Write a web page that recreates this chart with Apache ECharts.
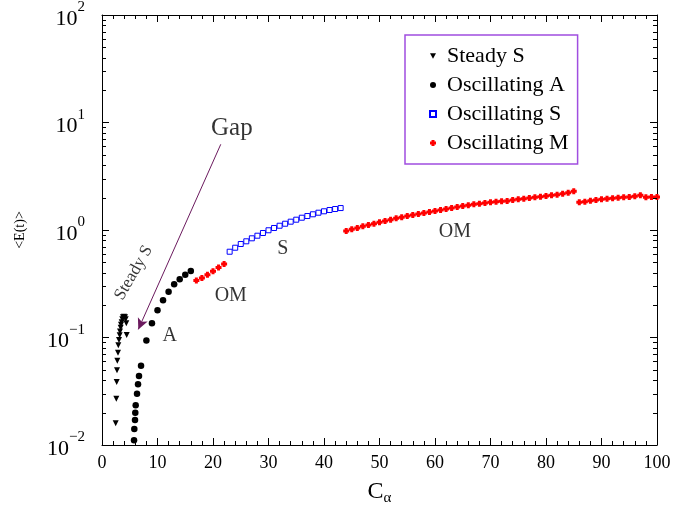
<!DOCTYPE html>
<html>
<head>
<meta charset="utf-8">
<script src="https://cdn.jsdelivr.net/npm/echarts@6/dist/echarts.min.js"></script>
<style>html,body{margin:0;padding:0;background:#fff}#c{width:695px;height:516px}</style>
</head>
<body>
<div id="c"></div>
<script>
// ---- data ----
var steadyS = [
  [2.47,0.0159],[2.58,0.027],[2.65,0.0385],[2.70,0.0495],[2.76,0.0608],[2.88,0.0722],
  [2.94,0.0846],[3.06,0.0948],[3.19,0.105],[3.24,0.114],[3.37,0.123],[3.42,0.1315],
  [3.55,0.139],[3.66,0.1477],[3.78,0.154],[3.96,0.156],[4.14,0.154],[4.27,0.148],
  [4.38,0.1355],[4.45,0.1055]
];
var oscA = [
  [5.77,0.0111],[5.82,0.0141],[5.95,0.0171],[6.0,0.020],[6.07,0.0234],[6.31,0.030],
  [6.49,0.0367],[6.67,0.0438],[7.03,0.0547],[8,0.094],[9,0.136],[10,0.179],[11,0.222],
  [12,0.267],[13,0.313],[14,0.348],[15,0.384],[16,0.416]
];
var oscS = [
  [23,0.628],[24,0.684],[25,0.741],[26,0.785],[27,0.837],[28,0.885],[29,0.938],[30,0.994],
  [31,1.044],[32,1.096],[33,1.144],[34,1.195],[35,1.247],[36,1.301],[37,1.349],[38,1.40],
  [39,1.448],[40,1.493],[41,1.535],[42,1.567],[43,1.60]
];
var oscM = [
  [17,0.339],[18,0.358],[19,0.383],[20,0.413],[21,0.448],[22,0.483],
  [44,0.979],[45,1.015],[46,1.044],[47,1.082],[48,1.113],[49,1.144],[50,1.179],[51,1.213],
  [52,1.247],[53,1.285],[54,1.313],[55,1.350],[56,1.379],[57,1.409],[58,1.439],[59,1.471],
  [60,1.502],[61,1.535],[62,1.568],[63,1.602],[64,1.637],[65,1.672],[66,1.697],[67,1.734],
  [68,1.757],[69,1.783],[70,1.810],[71,1.834],[72,1.849],[73,1.861],[74,1.901],[75,1.930],
  [76,1.955],[77,1.985],[78,2.015],[79,2.041],[80,2.072],[81,2.103],[82,2.130],[83,2.176],
  [84,2.223],[85,2.291],
  [86,1.810],[87,1.834],[88,1.873],[89,1.901],[90,1.930],[91,1.955],[92,1.972],[93,1.997],
  [94,2.015],[95,2.028],[96,2.059],[97,2.103],[98,2.015],[99,2.028],[100,2.028]
];
var xTicks = [0,10,20,30,40,50,60,70,80,90,100];
var yMinorTicks = [
  0.02,0.03,0.04,0.05,0.06,0.07,0.08,0.09,
  0.2,0.3,0.4,0.5,0.6,0.7,0.8,0.9,
  2,3,4,5,6,7,8,9,
  20,30,40,50,60,70,80,90
];
var legendNames = ['Steady S','Oscillating A','Oscillating S','Oscillating M'];
var arrowFrom = [21.4, 6.27];
var arrowTo = [6.54, 0.119];
var notes = [
  {text:'Gap', at:[23.4, 8.9], size:25, rotate:0},
  {text:'Steady S', at:[5.7, 0.40], size:17, rotate:60},
  {text:'A', at:[12.2, 0.103], size:20, rotate:0},
  {text:'OM', at:[23.2, 0.243], size:20, rotate:0},
  {text:'S', at:[32.6, 0.666], size:20, rotate:0},
  {text:'OM', at:[63.6, 0.958], size:20, rotate:0}
];

var FONT = 'Liberation Serif';
var TRI_DOWN = 'path://M0,0L2,0L1,1.8Z';
var BLOB = 'path://M1,0H3V1H4V3H3V4H1V3H0V1H1Z';
var chart = echarts.init(document.getElementById('c'), null, {renderer:'canvas'});
var supDigits = function (v) {
  var e = Math.round(Math.log10(v));
  return '{b|10}{s|' + (e < 0 ? '\u2212' + (-e) : e) + '}';
};
var xAxisBase = {
  type:'value', min:xTicks[0], max:xTicks[xTicks.length-1], interval:10, splitNumber:10,
  axisLine:{show:true, onZero:false, lineStyle:{color:'#000', width:1}},
  axisTick:{show:true, inside:true, length:7, lineStyle:{color:'#000'}},
  minorTick:{show:true, splitNumber:5, length:4, lineStyle:{color:'#000'}},
  splitLine:{show:false}
};
var yAxisBase = {
  type:'log', logBase:10, min:0.01, max:100,
  axisLine:{show:true, onZero:false, lineStyle:{color:'#000', width:1}},
  axisTick:{show:true, inside:true, length:7, lineStyle:{color:'#000'}},
  minorTick:{show:false},
  splitLine:{show:false}
};
var option = {
  animation:false,
  backgroundColor:'#fff',
  grid:{left:102, right:38, top:15, bottom:71},
  legend:{
    data:[
      {name:legendNames[0], icon:TRI_DOWN},
      {name:legendNames[1]},
      {name:legendNames[2]},
      {name:legendNames[3]}
    ],
    orient:'vertical', left:405, top:35,
    padding:[10,9,10,24], itemGap:7, itemWidth:6, itemHeight:6,
    borderColor:'#a04ee0', borderWidth:1.5,
    textStyle:{fontFamily:FONT, fontSize:22, color:'#000', lineHeight:22, padding:[0,0,0,6]}
  },
  xAxis:[
    Object.assign({}, xAxisBase, {
      position:'bottom',
      axisLabel:{show:true, margin:9, fontFamily:FONT, fontSize:18, color:'#000'},
      name:'{c|C}{a|\u03b1}', nameLocation:'middle', nameGap:35,
      nameTextStyle:{rich:{
        c:{fontFamily:FONT, fontSize:24, color:'#000', verticalAlign:'top', lineHeight:26},
        a:{fontFamily:FONT, fontSize:15, color:'#000', verticalAlign:'bottom', lineHeight:26, padding:[12,0,0,0]}
      }}
    }),
    Object.assign({}, xAxisBase, {position:'top', axisLabel:{show:false}})
  ],
  yAxis:[
    Object.assign({}, yAxisBase, {
      position:'left',
      axisLabel:{show:true, margin:17, formatter:supDigits, rich:{
        b:{fontFamily:FONT, fontSize:22, color:'#000', verticalAlign:'bottom', lineHeight:30},
        s:{fontFamily:FONT, fontSize:15, color:'#000', verticalAlign:'top', lineHeight:30}
      }},
      name:'<E(t)>', nameLocation:'middle', nameGap:75, nameRotate:90,
      nameTextStyle:{fontFamily:FONT, fontSize:14, color:'#000'}
    }),
    Object.assign({}, yAxisBase, {position:'right', axisLabel:{show:false}})
  ],
  series:[
    {
      name:'Steady S', type:'scatter', data:steadyS, symbol:TRI_DOWN,
      symbolSize:[6,6], itemStyle:{color:'#000', opacity:1}, z:5,
      markLine:{
        silent:true, symbol:['none','arrow'], symbolSize:[8,11], label:{show:false},
        lineStyle:{color:'#6b1a5e', width:1, type:'solid'},
        data:[[{coord:arrowFrom},{coord:arrowTo}]]
      }
    },
    {name:'Oscillating A', type:'scatter', data:oscA, symbol:'circle', symbolSize:6.5, itemStyle:{color:'#000', opacity:1}, z:5},
    {name:'Oscillating S', type:'scatter', data:oscS, symbol:'rect', symbolSize:5, itemStyle:{color:'#ffffff', borderColor:'#0000ff', borderWidth:1, opacity:1}, z:5},
    {name:'Oscillating M', type:'scatter', data:oscM, symbol:BLOB, symbolSize:6, itemStyle:{color:'#ff0000', opacity:1}, z:5},
    {
      type:'scatter', silent:true, symbolSize:0, z:6,
      data:notes.map(function(n){return {value:n.at, label:{show:true, position:'inside', formatter:n.text, rotate:n.rotate, fontFamily:FONT, fontSize:n.size, color:'#000'}};})
    },
    {
      type:'custom', silent:true, z:7, clip:false,
      data:yMinorTicks.map(function(v){return [0, v];}),
      renderItem:function(params, api){
        var v = api.value(1);
        var pl = api.coord([0, v]);
        var pr = api.coord([100, v]);
        var y = Math.round(pl[1]) + 0.5;
        return {type:'group', children:[
          {type:'line', shape:{x1:pl[0], y1:y, x2:pl[0]+4, y2:y}, style:{stroke:'#000', lineWidth:1}},
          {type:'line', shape:{x1:pr[0]-4, y1:y, x2:pr[0], y2:y}, style:{stroke:'#000', lineWidth:1}}
        ]};
      }
    }
  ]
};
chart.setOption(option);
</script>
</body>
</html>
